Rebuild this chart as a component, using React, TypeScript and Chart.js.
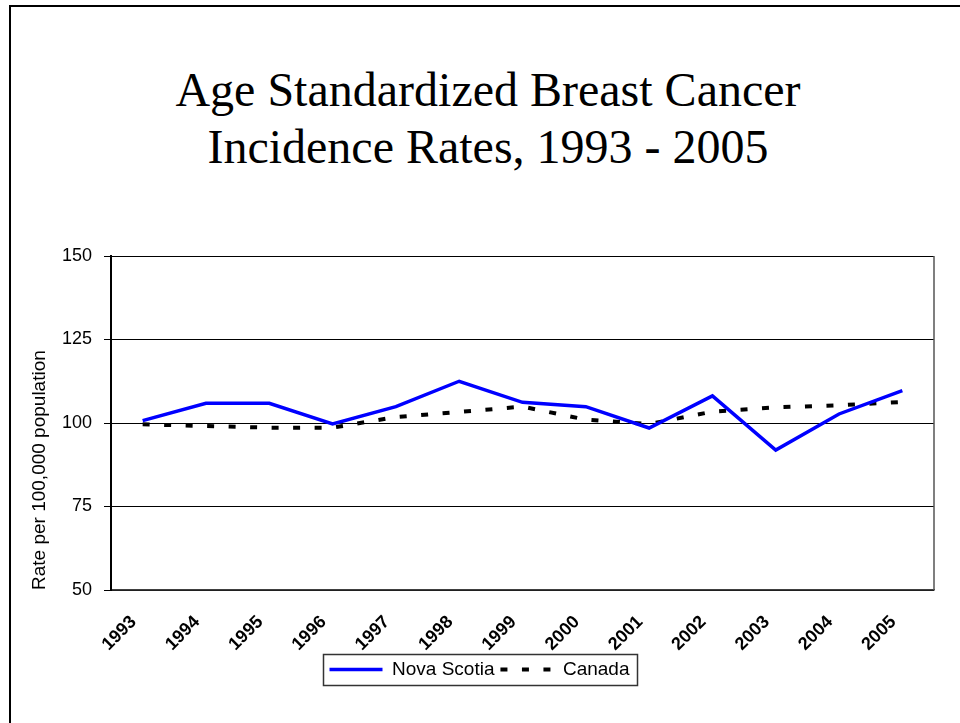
import React, { useEffect, useRef } from "react";
import { Chart, registerables } from "chart.js";

Chart.register(...registerables);

const years = ["1993", "1994", "1995", "1996", "1997", "1998", "1999", "2000", "2001", "2002", "2003", "2004", "2005"];
const novaScotia = [100.7, 105.9, 105.9, 99.7, 104.9, 112.5, 106.2, 104.9, 98.5, 108.1, 91.9, 102.7, 109.7];
const canada = [99.6, 99.1, 98.6, 98.6, 101.8, 103.3, 104.9, 101.0, 99.7, 103.4, 104.7, 105.3, 106.3];
const titleLines = ["Age Standardized Breast Cancer", "Incidence Rates, 1993 - 2005"];
const yAxisTitle = "Rate per 100,000 population";
const seriesNames = ["Nova Scotia", "Canada"];
const yMin = 50;
const yMax = 150;
const yStep = 25;

const frameLines = {
  id: "frameLines",
  beforeDatasetsDraw(chart: any) {
    const { ctx, chartArea } = chart;
    ctx.save();
    ctx.strokeStyle = "#555";
    ctx.lineWidth = 1.5;
    ctx.beginPath();
    ctx.moveTo(chartArea.right, chartArea.top);
    ctx.lineTo(chartArea.right, chartArea.bottom);
    ctx.stroke();
    ctx.restore();
  },
};

const legendBox = {
  id: "legendBox",
  afterDraw(chart: any) {
    const lg = chart.legend;
    if (!lg || !lg.legendHitBoxes || !lg.legendHitBoxes.length) return;
    const hb = lg.legendHitBoxes;
    const left = Math.min(...hb.map((h: any) => h.left)) - 7;
    const right = Math.max(...hb.map((h: any) => h.left + h.width)) + 7;
    const cy = hb[0].top + hb[0].height / 2;
    const { ctx } = chart;
    ctx.save();
    ctx.strokeStyle = "#333";
    ctx.lineWidth = 1.5;
    ctx.strokeRect(Math.round(left) + 0.5, Math.round(cy - 15.5) + 0.5, Math.round(right - left), 31);
    ctx.restore();
  },
};

export default function App() {
  const ref = useRef<HTMLCanvasElement | null>(null);

  useEffect(() => {
    if (!ref.current) return;
    Chart.defaults.font.family = "'Liberation Sans', Arial, sans-serif";
    Chart.defaults.color = "#000";
    const chart = new Chart(ref.current, {
      type: "line",
      data: {
        labels: years,
        datasets: [
          {
            label: seriesNames[0],
            data: novaScotia,
            borderColor: "#0000FF",
            backgroundColor: "#0000FF",
            borderWidth: 3.5,
            pointRadius: 0,
            tension: 0,
            fill: false,
          },
          {
            label: seriesNames[1],
            data: canada,
            borderColor: "#000000",
            backgroundColor: "#000000",
            borderWidth: 4,
            borderDash: [7, 14.5],
            borderCapStyle: "butt",
            pointRadius: 0,
            tension: 0,
            fill: false,
          },
        ],
      },
      options: {
        responsive: false,
        animation: false,
        devicePixelRatio: 1,
        layout: { padding: { left: 25, right: 26, top: 256, bottom: 34 } },
        plugins: {
          title: { display: false },
          legend: {
            position: "bottom",
            labels: {
              usePointStyle: true,
              pointStyle: "line",
              pointStyleWidth: 53,
              color: "#000",
              font: { size: 19 },
              padding: 6,
              generateLabels: (chart: any) => {
                const base = Chart.defaults.plugins.legend.labels.generateLabels(chart);
                return base.map((item: any) => {
                  const ds = chart.data.datasets[item.datasetIndex];
                  return {
                    ...item,
                    pointStyle: "line",
                    lineDash: ds.borderDash || [],
                    lineWidth: ds.borderWidth,
                    strokeStyle: ds.borderColor,
                    fillStyle: ds.borderColor,
                    lineCap: "butt",
                  };
                });
              },
            },
          },
          tooltip: { enabled: false },
        },
        scales: {
          x: {
            offset: true,
            grid: { display: false, drawTicks: false },
            border: { color: "#404040", width: 1.5 },
            ticks: {
              autoSkip: false,
              maxRotation: 45,
              minRotation: 45,
              padding: 21.5,
              labelOffset: -9,
              color: "#000",
              font: { size: 18, weight: "bold" },
            },
            afterFit: (s: any) => {
              s.height = 64;
            },
          },
          y: {
            min: yMin,
            max: yMax,
            ticks: { stepSize: yStep, padding: 12, color: "#000", font: { size: 18 } },
            grid: { color: "#000", lineWidth: 1, drawTicks: true, tickLength: 7, tickColor: "#000" },
            border: { color: "#000", width: 2 },
            title: {
              display: true,
              text: yAxisTitle,
              align: "start",
              color: "#000",
              font: { size: 19 },
              padding: { top: 3.6, bottom: 0 },
            },
            afterFit: (s: any) => {
              s.width = 86;
            },
          },
        },
      },
      plugins: [frameLines, legendBox],
    });
    return () => chart.destroy();
  }, []);

  return (
    <div style={{ position: "absolute", left: 0, top: 0, width: 960, height: 723, overflow: "hidden", background: "#fff" }}>
      <div
        style={{
          position: "absolute",
          left: 9,
          top: 5,
          width: 951,
          height: 718,
          boxSizing: "border-box",
          borderLeft: "2px solid #000",
          borderTop: "2px solid #000",
        }}
      />
      <div
        style={{
          position: "absolute",
          left: 16,
          top: 62,
          width: 944,
          textAlign: "center",
          fontFamily: "'Liberation Serif', 'Times New Roman', serif",
          fontSize: 48,
          lineHeight: "56.6px",
          color: "#000",
          whiteSpace: "nowrap",
        }}
      >
        {titleLines.map((t) => (
          <div key={t}>{t}</div>
        ))}
      </div>
      <canvas ref={ref} width={960} height={723} style={{ position: "absolute", left: 0, top: 0 }} />
    </div>
  );
}
